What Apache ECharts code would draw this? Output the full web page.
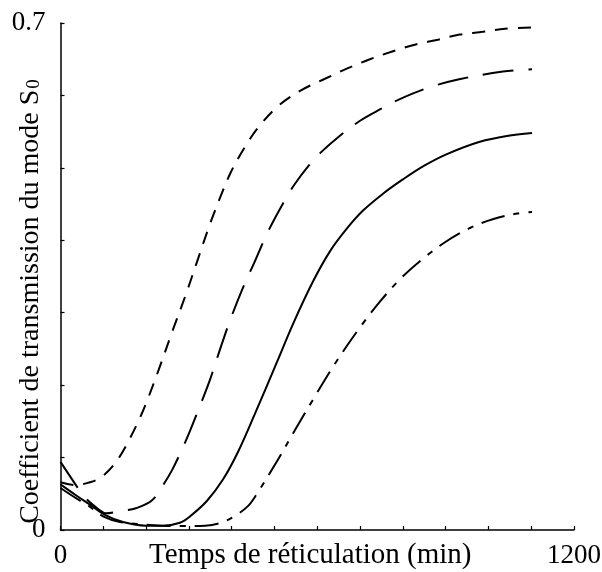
<!DOCTYPE html>
<html>
<head>
<meta charset="utf-8">
<script src="https://cdn.jsdelivr.net/npm/echarts@6/dist/echarts.min.js"></script>
<style>
  html, body { margin: 0; padding: 0; background: #fff; }
  #chart { width: 602px; height: 572px; }
</style>
</head>
<body>
<div id="chart"></div>
<script>
// Curing time (min) / S0 transmission coefficient pairs, one list per curve
const shortDash = [
  [0, 0.066], [36, 0.062], [69, 0.066], [90, 0.071], [111, 0.081], [131, 0.095],
  [151, 0.114], [181, 0.149], [202, 0.178], [230, 0.222], [260, 0.272], [291, 0.322],
  [320, 0.372], [349, 0.422], [375, 0.462], [398, 0.494], [426, 0.524], [461, 0.555],
  [508, 0.585], [562, 0.607], [618, 0.623], [669, 0.637], [723, 0.650], [777, 0.661],
  [828, 0.670], [882, 0.677], [933, 0.684], [987, 0.688], [1039, 0.692], [1102, 0.694]
];
const longDash = [
  [0, 0.094], [36, 0.062], [55, 0.046], [90, 0.028], [106, 0.023], [139, 0.026],
  [176, 0.030], [214, 0.041], [244, 0.066], [261, 0.083], [279, 0.105], [300, 0.133],
  [321, 0.164], [349, 0.207], [372, 0.248], [396, 0.289], [426, 0.334], [455, 0.372],
  [485, 0.412], [524, 0.455], [548, 0.478], [580, 0.503], [606, 0.520], [646, 0.541],
  [700, 0.565], [751, 0.582], [793, 0.595], [856, 0.610], [929, 0.622], [1034, 0.633],
  [1102, 0.636]
];
const solid = [
  [0, 0.063], [36, 0.048], [69, 0.035], [104, 0.021], [146, 0.011], [200, 0.006],
  [240, 0.006], [279, 0.010], [303, 0.019], [342, 0.040], [380, 0.070], [415, 0.108],
  [454, 0.160], [506, 0.232], [543, 0.284], [590, 0.343], [630, 0.385], [669, 0.416],
  [707, 0.441], [753, 0.464], [800, 0.484], [850, 0.503], [903, 0.519], [980, 0.536],
  [1043, 0.544], [1102, 0.548]
];
const dashDot = [
  [0, 0.058], [36, 0.044], [69, 0.032], [102, 0.018], [139, 0.011], [209, 0.007],
  [279, 0.0055], [338, 0.006], [370, 0.009], [401, 0.017], [438, 0.033], [459, 0.050],
  [501, 0.090], [548, 0.138], [590, 0.180], [630, 0.219], [669, 0.254], [704, 0.283],
  [746, 0.315], [798, 0.349], [852, 0.377], [903, 0.399], [957, 0.417], [1010, 0.429],
  [1067, 0.437], [1102, 0.439]
];

// Axis ranges and the only tick labels that are printed
const xRange = [0, 1200];
const yRange = [0, 0.7];
const xLabels = ['0', '1200'];
const yLabels = ['0', '0.7'];

const serif = 'Liberation Serif';
const ink = '#000';

function curve(data, dash) {
  return {
    type: 'line',
    data: data,
    showSymbol: false,
    smooth: 0.35,
    silent: true,
    lineStyle: { color: ink, width: 2, type: dash, cap: 'butt' }
  };
}

const chart = echarts.init(document.getElementById('chart'), null, { renderer: 'canvas' });
chart.setOption({
  backgroundColor: '#fff',
  animation: false,
  grid: { left: 60.5, right: 28, top: 23, bottom: 42, outerBoundsMode: 'none' },
  xAxis: {
    type: 'value',
    min: xRange[0], max: xRange[1], interval: 100,
    splitLine: { show: false },
    axisLine: { lineStyle: { color: ink, width: 1.5 } },
    axisTick: { inside: true, length: 4, lineStyle: { color: ink, width: 1.2 } },
    axisLabel: {
      color: ink, fontFamily: serif, fontSize: 27, margin: 12,
      formatter: v => (v === xRange[0] ? xLabels[0] : v === xRange[1] ? xLabels[1] : '')
    },
    name: 'Temps de réticulation (min)',
    nameLocation: 'middle',
    nameGap: 11,
    nameMoveOverlap: false,
    nameTextStyle: { color: ink, fontFamily: serif, fontSize: 29, padding: [0, 14, 0, 0] }
  },
  yAxis: {
    type: 'value',
    min: yRange[0], max: yRange[1], interval: 0.1,
    splitLine: { show: false },
    axisLine: { lineStyle: { color: ink, width: 1.5 } },
    axisTick: { inside: true, length: 4, lineStyle: { color: ink, width: 1.2 } },
    axisLabel: {
      color: ink, fontFamily: serif, fontSize: 27, margin: 15,
      formatter: v => (Math.abs(v - yRange[0]) < 1e-9 ? yLabels[0]
        : Math.abs(v - yRange[1]) < 1e-9 ? yLabels[1] : '')
    },
    name: '{t|Coefficient de transmission du mode S}{s|0}',
    nameLocation: 'middle',
    nameRotate: 90,
    nameGap: 16,
    nameMoveOverlap: false,
    nameTextStyle: {
      color: ink, fontFamily: serif, fontSize: 28, padding: [0, 50, 0, 0],
      rich: {
        t: { color: ink, fontFamily: serif, fontSize: 28 },
        s: { color: ink, fontFamily: serif, fontSize: 19, padding: [8, 0, 0, 1] }
      }
    }
  },
  series: [
    curve(shortDash, [13, 10]),
    curve(longDash, [31, 15]),
    curve(solid, 'solid'),
    curve(dashDot, [24, 9, 6, 9])
  ]
});
</script>
</body>
</html>
